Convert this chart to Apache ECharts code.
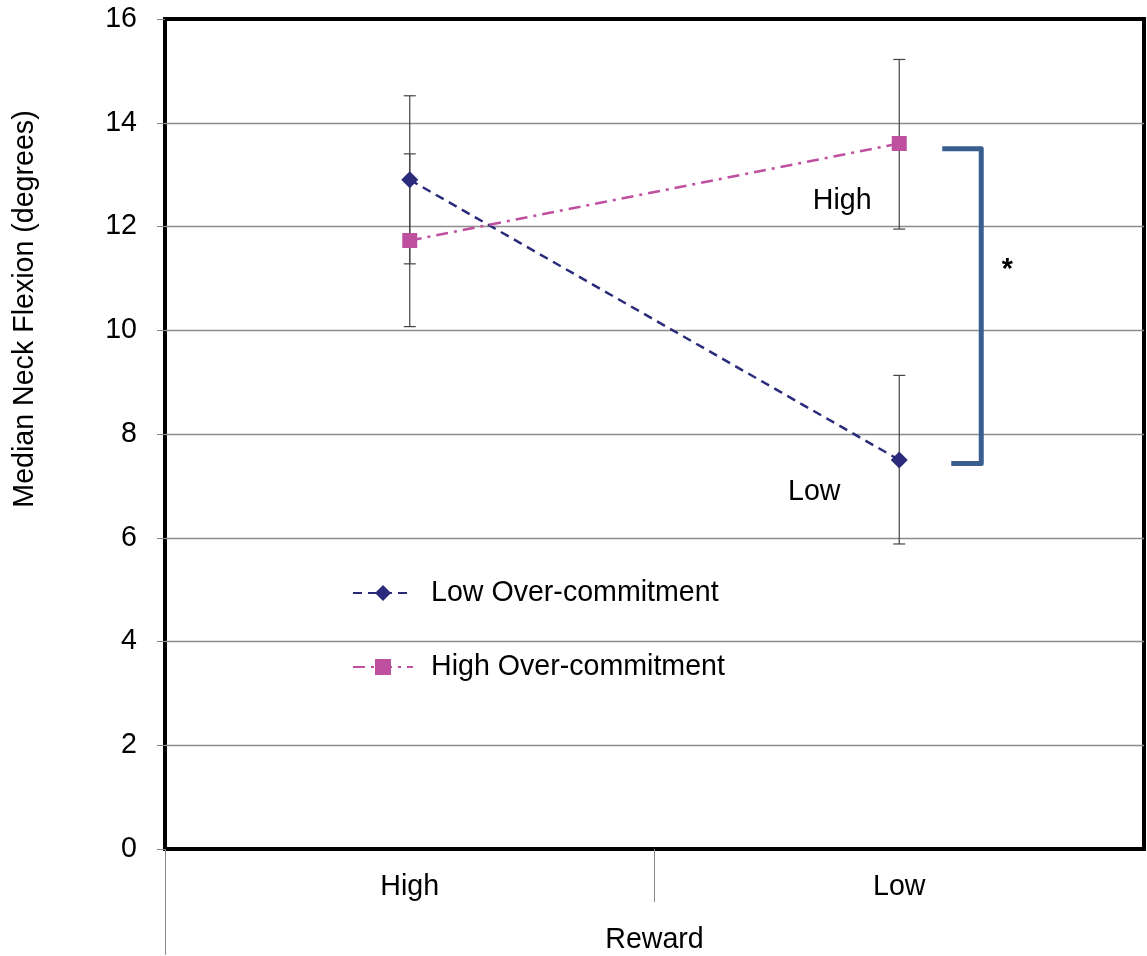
<!DOCTYPE html>
<html>
<head>
<meta charset="utf-8">
<script src="https://cdn.jsdelivr.net/npm/echarts@6/dist/echarts.min.js"></script>
<style>
html,body{margin:0;padding:0;background:#fff;}
#chart{width:1147px;height:956px;}
</style>
</head>
<body>
<div id="chart"></div>
<script>
// ---- data ----
const categories = ['High', 'Low'];
const seriesNames = ['Low Over-commitment', 'High Over-commitment'];
const lowOC = [12.9, 7.5];
const highOC = [11.73, 13.6];
const lowOCErrLow = [11.28, 5.88];
const lowOCErrHigh = [14.52, 9.13];
const highOCErrLow = [10.07, 11.95];
const highOCErrHigh = [13.4, 15.22];
const yMin = 0, yMax = 16, yStep = 2;
const bracketRange = [13.5, 7.43];       // significance bracket (at Low reward)
const annotationTexts = ['High', 'Low', '*'];
const annotationValues = [12.5, 6.9, 11.2];
const xTitle = 'Reward';
const yTitle = 'Median Neck Flexion (degrees)';

// ---- styles ----
const FONT = '"Liberation Sans", Arial, sans-serif';
const FS = 28.6;
const navy = '#2B2B7B';
const magenta = '#BF50A0';
const bracketColor = '#3A5F8E';
const annotationOffsets = [[-57, 1], [-85, 1], [108, 2]];
const annotationWeights = ['normal', 'normal', 'bold'];

const errData = [];
for (let i = 0; i < categories.length; i++) {
  errData.push([i, lowOCErrLow[i], lowOCErrHigh[i]]);
  errData.push([i, highOCErrLow[i], highOCErrHigh[i]]);
}

function renderErr(params, api) {
  const x = api.value(0);
  const lo = api.coord([x, api.value(1)]);
  const hi = api.coord([x, api.value(2)]);
  const cap = 6;
  const st = { stroke: '#444', lineWidth: 1.2 };
  return {
    type: 'group',
    children: [
      { type: 'line', shape: { x1: lo[0], y1: lo[1], x2: hi[0], y2: hi[1] }, style: st },
      { type: 'line', shape: { x1: lo[0] - cap, y1: lo[1], x2: lo[0] + cap, y2: lo[1] }, style: st },
      { type: 'line', shape: { x1: hi[0] - cap, y1: hi[1], x2: hi[0] + cap, y2: hi[1] }, style: st }
    ]
  };
}

function renderBracket(params, api) {
  const top = api.coord([api.value(0), api.value(1)]);
  const bot = api.coord([api.value(0), api.value(2)]);
  const x0 = top[0] + 43, x1 = top[0] + 82, x2 = top[0] + 52;
  return {
    type: 'polyline',
    shape: { points: [[x0, top[1]], [x1, top[1]], [x1, bot[1]], [x2, bot[1]]] },
    style: { stroke: bracketColor, lineWidth: 5, fill: null, lineJoin: 'round' }
  };
}

function renderAnno(params, api) {
  const i = params.dataIndex;
  const p = api.coord([api.value(0), api.value(1)]);
  const off = annotationOffsets[i];
  return {
    type: 'text',
    x: p[0] + off[0], y: p[1] + off[1],
    style: {
      text: annotationTexts[i],
      fill: '#000',
      font: annotationWeights[i] + ' ' + FS + 'px ' + FONT,
      align: 'center',
      verticalAlign: 'middle'
    }
  };
}

const chart = echarts.init(document.getElementById('chart'), null, { renderer: 'canvas' });
chart.setOption({
  animation: false,
  backgroundColor: '#fff',
  textStyle: { fontFamily: FONT },
  grid: {
    left: 165, right: 3, top: 19, bottom: 107,
    outerBoundsMode: 'none', containLabel: false,
    show: true, borderColor: '#000', borderWidth: 4, backgroundColor: 'transparent'
  },
  legend: {
    data: seriesNames,
    orient: 'vertical',
    left: 352, top: 578,
    padding: 0,
    itemWidth: 60, itemHeight: 20, itemGap: 44,
    textStyle: { fontSize: FS, color: '#000', fontFamily: FONT, lineHeight: 30, padding: [0, 0, 0, 13] }
  },
  xAxis: [
    {
      type: 'category', data: categories, boundaryGap: true,
      axisLine: { show: false },
      axisTick: { show: false },
      axisLabel: { fontSize: FS, color: '#000', margin: 24, fontFamily: FONT },
      name: xTitle, nameLocation: 'middle', nameGap: 77,
      nameTextStyle: { fontSize: FS, color: '#000', fontFamily: FONT }
    },
    {
      type: 'category', data: ['', '', ''], boundaryGap: false, position: 'bottom',
      axisLine: { show: false }, axisLabel: { show: false },
      axisTick: { show: true, length: 106, interval: function (i) { return i === 0; }, lineStyle: { color: '#888', width: 1 } }
    },
    {
      type: 'category', data: ['', '', ''], boundaryGap: false, position: 'bottom',
      axisLine: { show: false }, axisLabel: { show: false },
      axisTick: { show: true, length: 53, interval: function (i) { return i === 1; }, lineStyle: { color: '#888', width: 1 } }
    }
  ],
  yAxis: {
    type: 'value', min: yMin, max: yMax, interval: yStep,
    axisLine: { show: false },
    axisTick: { show: true, length: 8, lineStyle: { color: '#888' } },
    axisLabel: { fontSize: FS, color: '#000', margin: 28, fontFamily: FONT },
    splitLine: { show: true, showMinLine: false, showMaxLine: false, lineStyle: { color: '#8C8C8C', width: 1.3 } }
  },
  graphic: [{
    type: 'text', x: 25, y: 309, rotation: Math.PI / 2,
    style: { text: yTitle, font: FS + 'px ' + FONT, fill: '#000', align: 'center', verticalAlign: 'middle' }
  }],
  series: [
    {
      name: 'errorbars', type: 'custom', renderItem: renderErr, data: errData, z: 1,
      encode: { x: 0, y: [1, 2] }, silent: true
    },
    {
      name: seriesNames[0], type: 'line', data: lowOC, z: 3,
      symbol: 'diamond', symbolSize: 17,
      itemStyle: { color: navy },
      lineStyle: { color: navy, width: 2.5, type: [9, 6] }
    },
    {
      name: seriesNames[1], type: 'line', data: highOC, z: 3,
      symbol: 'rect', symbolSize: 15,
      itemStyle: { color: magenta },
      lineStyle: { color: magenta, width: 2.5, type: [12, 6, 3, 6] }
    },
    {
      name: 'bracket', type: 'custom', renderItem: renderBracket, z: 4,
      data: [[1, bracketRange[0], bracketRange[1]]], encode: { x: 0, y: [1, 2] }, silent: true
    },
    {
      name: 'annotations', type: 'custom', renderItem: renderAnno, z: 4,
      data: annotationValues.map(function (v) { return [1, v]; }), encode: { x: 0, y: 1 }, silent: true
    }
  ]
});
</script>
</body>
</html>
